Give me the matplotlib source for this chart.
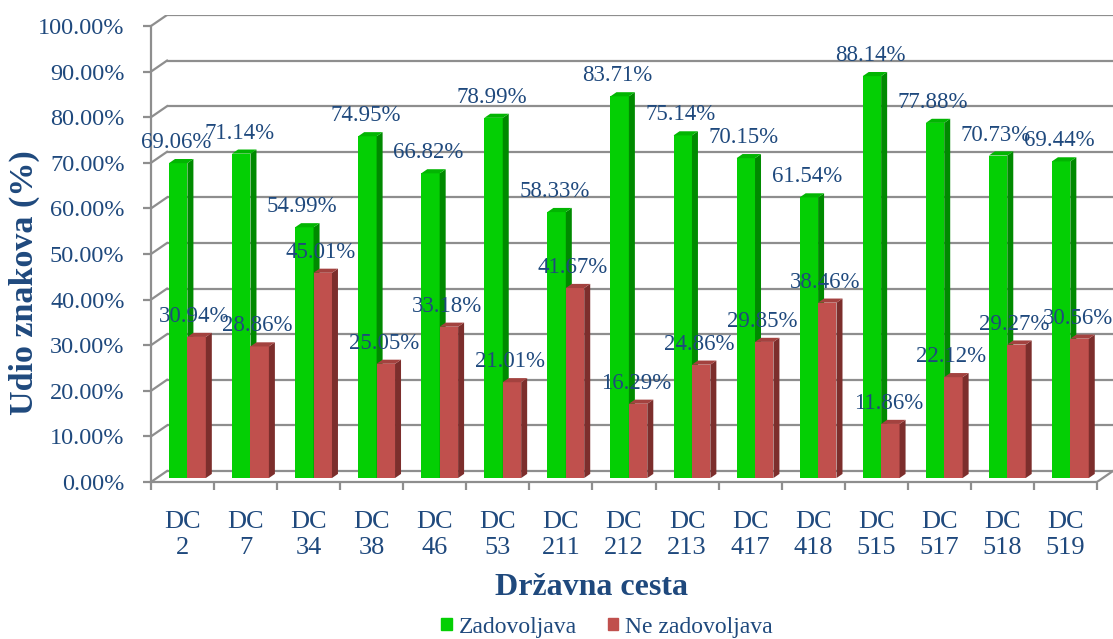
import matplotlib
matplotlib.use('Agg')
import matplotlib.pyplot as plt
from matplotlib.patches import Polygon, Patch
import numpy as np

# podaci
ceste = ['DC\n2', 'DC\n7', 'DC\n34', 'DC\n38', 'DC\n46', 'DC\n53', 'DC\n211', 'DC\n212',
         'DC\n213', 'DC\n417', 'DC\n418', 'DC\n515', 'DC\n517', 'DC\n518', 'DC\n519']
zadovoljava = [69.06, 71.14, 54.99, 74.95, 66.82, 78.99, 58.33, 83.71,
               75.14, 70.15, 61.54, 88.14, 77.88, 70.73, 69.44]
ne_zadovoljava = [30.94, 28.86, 45.01, 25.05, 33.18, 21.01, 41.67, 16.29,
                  24.86, 29.85, 38.46, 11.86, 22.12, 29.27, 30.56]
y_ticks = [0, 10, 20, 30, 40, 50, 60, 70, 80, 90, 100]

plavo = '#1F497D'
siva = '#8E8E8E'
plt.rcParams['font.family'] = ['Liberation Serif', 'DejaVu Serif']

W, H = 1113, 639
fig = plt.figure(figsize=(W / 100, H / 100), dpi=100)

n = len(ceste)
px_cat = (W - 16 - 151) / n
px_pct = 4.56
dx = 16 / px_cat          # dubina u jedinicama kategorije
dy = 11 / px_pct          # dubina u postocima
ax = fig.add_axes([151 / W, (H - 482) / H, (W - 151) / W, (482 - 15) / H])
ax.set_xlim(0, n + dx)
ax.set_ylim(0, 100 + dy)

# zidovi / mreza
for v in y_ticks:
    ax.plot([dx, n + dx], [v + dy, v + dy], color=siva, lw=1.6, zorder=1, solid_capstyle='butt')
    ax.plot([0, dx], [v, v + dy], color=siva, lw=1.6, zorder=1)
ax.plot([n, n + dx], [0, dy], color=siva, lw=1.6, zorder=1)

z0 = 0.36
zd = 0.375
a = 0.194
w = 0.292


def stupac(x, h, c_front, c_side, c_top):
    xf = x + z0 * dx
    yb = z0 * dy
    ax.bar(xf, h, width=w, bottom=yb, align='edge', color=c_front, zorder=3)
    ox, oy = zd * dx, zd * dy
    side = [(xf + w, yb), (xf + w + ox, yb + oy), (xf + w + ox, yb + h + oy), (xf + w, yb + h)]
    top = [(xf, yb + h), (xf + w, yb + h), (xf + w + ox, yb + h + oy), (xf + ox, yb + h + oy)]
    ax.add_patch(Polygon(side, closed=True, facecolor=c_side, edgecolor='none', zorder=3))
    ax.add_patch(Polygon(top, closed=True, facecolor=c_top, edgecolor='none', zorder=3))


for i in range(n):
    stupac(i + a, zadovoljava[i], '#04CF04', '#008A00', '#02B502')
    stupac(i + a + w, ne_zadovoljava[i], '#C0504D', '#7C2E2C', '#A3423F')

for i in range(n):
    for j, vals in enumerate([zadovoljava, ne_zadovoljava]):
        xc = i + a + j * w + w / 2 + z0 * dx
        ax.annotate('{:.2f}%'.format(vals[i]), xy=(xc, vals[i] + z0 * dy),
                    xytext=(-2, 15), textcoords='offset pixels', ha='center',
                    va='baseline', fontsize=16.5, color=plavo, zorder=5)

# osi
for s in ['top', 'right']:
    ax.spines[s].set_visible(False)
ax.spines['left'].set_bounds(0, 100)
ax.spines['bottom'].set_bounds(0, n)
for s in ['left', 'bottom']:
    ax.spines[s].set_color(siva)
    ax.spines[s].set_linewidth(1.6)
    ax.spines[s].set_zorder(4)

ax.set_yticks(y_ticks)
ax.set_yticklabels(['{:.2f}%'.format(v) for v in y_ticks])
ax.tick_params(axis='y', length=6, width=1.6, color=siva, pad=13,
               labelsize=17.5, labelcolor=plavo)
ax.set_xticks(np.arange(n + 1))
ax.set_xticklabels([])
ax.set_xticks(np.arange(n) + 0.5, minor=True)
ax.set_xticklabels(ceste, minor=True, linespacing=1.24)
ax.tick_params(axis='x', which='major', length=6, width=1.6, color=siva)
ax.tick_params(axis='x', which='minor', length=0, pad=21, labelsize=19, labelcolor=plavo)

fig.text(592 / W, 1 - 595 / H, 'Državna cesta', ha='center', va='baseline',
         fontsize=23, fontweight='bold', color=plavo)
fig.text(24 / W, 1 - 283 / H, 'Udio znakova (%)', ha='center', va='center',
         rotation=90, fontsize=24.5, fontweight='bold', color=plavo)

handles = [Patch(color='#04CF04'), Patch(color='#C0504D')]
fig.legend(handles, ['Zadovoljava', 'Ne zadovoljava'], loc='center',
           bbox_to_anchor=(607 / W, 1 - 627 / H), ncol=2, frameon=False,
           fontsize=17, handlelength=0.45, handleheight=0.45, handletextpad=0.3,
           columnspacing=1.3, labelcolor=plavo)

fig.savefig('out.png', dpi=100)
